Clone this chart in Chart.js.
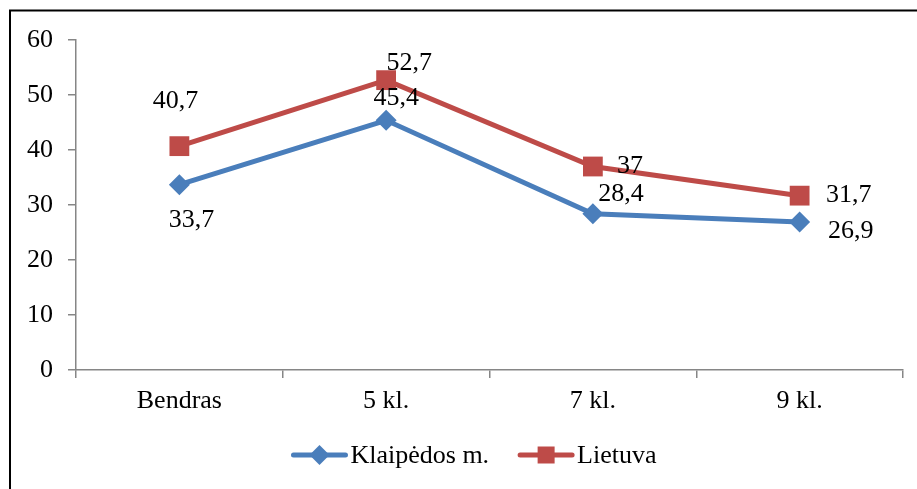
<!DOCTYPE html>
<html>
<head>
<meta charset="utf-8">
<script src="https://cdn.jsdelivr.net/npm/chart.js@4/dist/chart.umd.min.js"></script>
<style>
  html, body { margin: 0; padding: 0; background: #fff; }
  canvas { display: block; }
</style>
</head>
<body>
<canvas id="c" width="917" height="489"></canvas>
<script>
const categories = ['Bendras', '5 kl.', '7 kl.', '9 kl.'];
const seriesNames = ['Klaipėdos m.', 'Lietuva'];
const klaipedaValues = [33.7, 45.4, 28.4, 26.9];
const lietuvaValues = [40.7, 52.7, 37, 31.7];
const yTicks = [0, 10, 20, 30, 40, 50, 60];

// style constants
const BLUE = '#4A7EBB';
const RED = '#BE4B48';
const AXIS = '#868686';
const FONT = "'Liberation Serif', 'Times New Roman', serif";
const FS = 26;
// label offsets (pixels from point) per series
const labelOffsets = [
  [[12, 36], [10, -22], [28, -20], [51, 9]],
  [[-4, -45], [23, -17], [37, 0], [49, 0]]
];

function fmt(v) { return String(v).replace('.', ','); }

function drawMarker(ctx, style, x, y, r, color) {
  ctx.save();
  ctx.fillStyle = color;
  ctx.beginPath();
  if (style === 'rectRot') {
    ctx.moveTo(x, y - r); ctx.lineTo(x + r, y); ctx.lineTo(x, y + r); ctx.lineTo(x - r, y);
    ctx.closePath();
  } else {
    ctx.rect(x - r, y - r, 2 * r, 2 * r);
  }
  ctx.fill();
  ctx.restore();
}

const framePlugin = {
  id: 'frame',
  beforeDraw(chart) {
    const ctx = chart.ctx;
    ctx.save();
    ctx.fillStyle = '#fff';
    ctx.fillRect(0, 0, chart.width, chart.height);
    ctx.strokeStyle = '#000';
    ctx.lineWidth = 2;
    ctx.beginPath();
    ctx.moveTo(10, chart.height + 2);
    ctx.lineTo(10, 10.5);
    ctx.lineTo(chart.width + 2, 10.5);
    ctx.stroke();
    ctx.restore();
  }
};

const labelPlugin = {
  id: 'valueLabels',
  afterDatasetsDraw(chart) {
    const ctx = chart.ctx;
    ctx.save();
    ctx.font = FS + 'px ' + FONT;
    ctx.fillStyle = '#000';
    ctx.textAlign = 'center';
    ctx.textBaseline = 'middle';
    chart.data.datasets.forEach((ds, di) => {
      const meta = chart.getDatasetMeta(di);
      meta.data.forEach((pt, i) => {
        const off = labelOffsets[di][i];
        ctx.fillText(fmt(ds.data[i]), pt.x + off[0], pt.y + off[1]);
      });
    });
    ctx.restore();
  }
};

const legendPlugin = {
  id: 'customLegend',
  afterDraw(chart) {
    const ctx = chart.ctx;
    ctx.save();
    ctx.font = FS + 'px ' + FONT;
    ctx.textBaseline = 'middle';
    ctx.textAlign = 'left';
    const lineLen = 56, gapText = 3, gapItems = 29;
    const items = chart.data.datasets.map(ds => ({
      ds, w: lineLen + gapText + ctx.measureText(ds.label).width
    }));
    const total = items.reduce((s, it) => s + it.w, 0) + gapItems * (items.length - 1);
    let x = 474 - total / 2;
    const y = 455;
    items.forEach(it => {
      const ds = it.ds;
      ctx.strokeStyle = ds.borderColor;
      ctx.lineWidth = 5;
      ctx.lineCap = 'round';
      ctx.beginPath();
      ctx.moveTo(x + 2, y); ctx.lineTo(x + lineLen - 2, y);
      ctx.stroke();
      const r = ds.pointStyle === 'rectRot' ? 10 : 8.5;
      drawMarker(ctx, ds.pointStyle, x + lineLen / 2, y, r, ds.borderColor);
      ctx.fillStyle = '#000';
      ctx.fillText(ds.label, x + lineLen + gapText, y + 1);
      x += it.w + gapItems;
    });
    ctx.restore();
  }
};

new Chart(document.getElementById('c'), {
  type: 'line',
  data: {
    labels: categories,
    datasets: [
      {
        label: seriesNames[0], data: klaipedaValues,
        borderColor: BLUE, backgroundColor: BLUE,
        pointBackgroundColor: BLUE, pointBorderColor: BLUE,
        borderWidth: 5, tension: 0,
        pointStyle: 'rectRot', pointRadius: 10.5, pointBorderWidth: 0, pointHoverRadius: 10.5
      },
      {
        label: seriesNames[1], data: lietuvaValues,
        borderColor: RED, backgroundColor: RED,
        pointBackgroundColor: RED, pointBorderColor: RED,
        borderWidth: 5, tension: 0,
        pointStyle: 'rect', pointRadius: 14, pointBorderWidth: 0, pointHoverRadius: 14
      }
    ]
  },
  options: {
    responsive: false,
    animation: false,
    events: [],
    layout: { padding: { top: 40, right: 14, left: 0, bottom: 0 } },
    plugins: {
      legend: { display: false },
      tooltip: { enabled: false }
    },
    scales: {
      x: {
        offset: true,
        grid: { offset: true, drawOnChartArea: false, tickLength: 8, color: AXIS, lineWidth: 1.5 },
        border: { color: AXIS, width: 1.5 },
        ticks: { color: '#000', font: { family: FONT, size: FS }, padding: 8, maxRotation: 0 },
        afterFit(scale) { scale.height = 119; }
      },
      y: {
        min: yTicks[0], max: yTicks[yTicks.length - 1],
        afterBuildTicks(scale) { scale.ticks = yTicks.map(v => ({ value: v })); },
        grid: { drawOnChartArea: false, tickLength: 8, color: AXIS, lineWidth: 1.5 },
        border: { color: AXIS, width: 1.5 },
        ticks: { color: '#000', font: { family: FONT, size: FS }, padding: 15 },
        afterFit(scale) { scale.width = 76; }
      }
    }
  },
  plugins: [framePlugin, labelPlugin, legendPlugin]
});
</script>
</body>
</html>
